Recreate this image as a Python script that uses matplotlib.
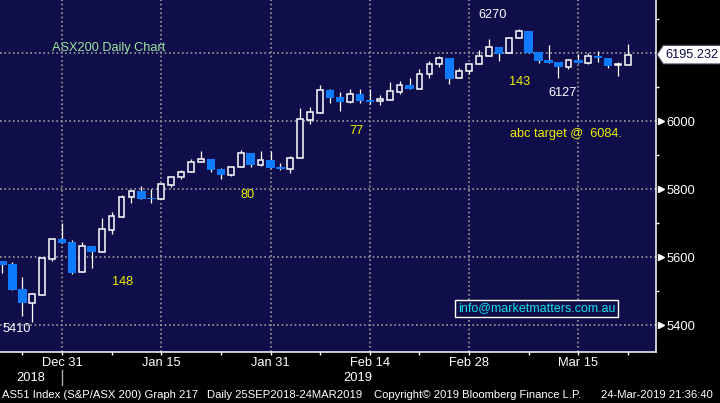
import matplotlib
matplotlib.use("Agg")
import matplotlib.pyplot as plt
import matplotlib.transforms as mtrans
from matplotlib.patches import Polygon

plt.rcParams['font.family'] = ['Liberation Sans', 'DejaVu Sans']

# daily candles, ASX200
dates = ["Dec 19", "Dec 20", "Dec 21", "Dec 24", "Dec 27", "Dec 28", "Dec 31",
         "Jan 2", "Jan 3", "Jan 4", "Jan 7", "Jan 8", "Jan 9", "Jan 10", "Jan 11",
         "Jan 14", "Jan 15", "Jan 16", "Jan 17", "Jan 18", "Jan 21", "Jan 22",
         "Jan 23", "Jan 24", "Jan 25", "Jan 29", "Jan 30", "Jan 31",
         "Feb 1", "Feb 4", "Feb 5", "Feb 6", "Feb 7", "Feb 8", "Feb 11", "Feb 12",
         "Feb 13", "Feb 14", "Feb 15", "Feb 18", "Feb 19", "Feb 20", "Feb 21",
         "Feb 22", "Feb 25", "Feb 26", "Feb 27", "Feb 28",
         "Mar 1", "Mar 4", "Mar 5", "Mar 6", "Mar 7", "Mar 8", "Mar 11", "Mar 12",
         "Mar 13", "Mar 14", "Mar 15", "Mar 18", "Mar 19", "Mar 20", "Mar 21", "Mar 22"]
opens = [5589, 5579, 5506, 5466, 5489, 5595, 5653,
         5644, 5555, 5632, 5616, 5680, 5719, 5776, 5794,
         5774, 5772, 5813, 5834, 5849, 5879, 5888,
         5859, 5842, 5864, 5905, 5872, 5884,
         5865, 5860, 5890, 6004, 6024, 6091, 6071, 6057,
         6079, 6062, 6058, 6063, 6086, 6106, 6094,
         6137, 6167, 6184, 6126, 6148,
         6167, 6190, 6218, 6199, 6243, 6265, 6203, 6179,
         6174, 6160, 6179, 6172, 6192, 6185, 6165, 6166]
highs = [5589, 5585, 5541, 5495, 5596, 5652, 5701,
         5649, 5644, 5632, 5716, 5732, 5782, 5797, 5809,
         5799, 5814, 5834, 5856, 5887, 5912, 5888,
         5862, 5864, 5915, 5905, 5912, 5912,
         5877, 5898, 6038, 6041, 6107, 6095, 6085, 6095,
         6095, 6095, 6077, 6115, 6119, 6127, 6152,
         6177, 6191, 6184, 6156, 6167,
         6209, 6241, 6218, 6248, 6270, 6265, 6203, 6224,
         6174, 6182, 6197, 6199, 6207, 6185, 6174, 6227]
lows = [5554, 5504, 5427, 5410, 5489, 5589, 5642,
        5550, 5555, 5569, 5616, 5667, 5719, 5758, 5772,
        5758, 5772, 5805, 5830, 5849, 5879, 5851,
        5830, 5839, 5864, 5864, 5867, 5863,
        5856, 5848, 5890, 5992, 6024, 6054, 6030, 6054,
        6054, 6049, 6048, 6063, 6080, 6094, 6094,
        6127, 6160, 6108, 6126, 6137,
        6167, 6190, 6177, 6199, 6243, 6201, 6172, 6172,
        6127, 6154, 6172, 6169, 6174, 6157, 6133, 6166]
closes = [5577, 5504, 5466, 5490, 5596, 5652, 5642,
          5554, 5632, 5616, 5682, 5721, 5776, 5793, 5772,
          5771, 5814, 5834, 5849, 5879, 5887, 5857,
          5842, 5864, 5905, 5872, 5884, 5863,
          5860, 5890, 6005, 6026, 6090, 6069, 6057, 6079,
          6060, 6057, 6065, 6087, 6106, 6094, 6138,
          6168, 6184, 6124, 6148, 6167,
          6191, 6217, 6198, 6243, 6264, 6201, 6177, 6172,
          6160, 6179, 6172, 6191, 6186, 6163, 6169, 6195.232]

date_ticks = ["Dec 31", "Jan 15", "Jan 31", "Feb 14", "Feb 28", "Mar 15"]
minor_dates = ["Dec 21", "Jan 8", "Jan 23", "Feb 7", "Feb 21", "Mar 8", "Mar 22"]
price_ticks = [5400, 5600, 5800, 6000, 6200]
price_labels = ["5400", "5600", "5800", "6000", ""]
price_minor = [5500, 5700, 5900, 6100, 6300]
last_price = closes[-1]

# chart notes: (text, x date index, price, colour, ha)
notes = [
    ("6270", 49.4, 6312, "white", "center"),
    ("143", 52.1, 6115, "#f0f000", "center"),
    ("6127", 56.45, 6082, "white", "center"),
    ("abc target @  6084.", 51.1, 5963, "#f0f000", "left"),
    ("77", 35.7, 5971, "#f0f000", "center"),
    ("80", 24.7, 5782, "#f0f000", "center"),
    ("148", 12.1, 5527, "#f0f000", "center"),
    ("5410", 1.47, 5388, "white", "center"),
]

NAVY = "#0f0d4a"
BLUE = "#0c7bff"
GRID = "#9c9c9c"

fig = plt.figure(figsize=(7.2, 4.03), dpi=100, facecolor="black")
ax = fig.add_axes([0, 51 / 403, 656 / 720, 352 / 403])
ax.set_facecolor(NAVY)

x = list(range(len(dates)))
up = [i for i in x if closes[i] >= opens[i]]
dn = [i for i in x if closes[i] < opens[i]]
min_h = 4

ax.vlines(x, lows, highs, color="white", lw=0.9, zorder=2)
ax.bar(up, [max(closes[i] - opens[i], min_h) for i in up],
       bottom=[opens[i] for i in up], width=0.58,
       facecolor=NAVY, edgecolor="white", lw=1.1, zorder=3)
ax.bar(dn, [max(opens[i] - closes[i], min_h) for i in dn],
       bottom=[closes[i] for i in dn], width=0.86,
       color=BLUE, lw=0, zorder=3)

ax.set_xlim(-0.24, 65.82)
ax.set_ylim(5320.6, 6355.9)

# axes + ticks
ax.yaxis.tick_right()
ax.set_yticks(price_ticks)
ax.set_yticklabels(price_labels)
ax.set_yticks(price_minor, minor=True)
ax.set_xticks([dates.index(d) for d in date_ticks])
ax.set_xticklabels(date_ticks)
ax.set_xticks([dates.index(d) for d in minor_dates], minor=True)
ax.tick_params(axis="y", which="major", length=0, pad=7.5, colors="white", labelsize=9.3)
ax.tick_params(axis="y", which="minor", length=2.5, width=1, color="white")
ax.tick_params(axis="x", which="both", length=2.5, width=1, color="white",
               labelcolor="white", labelsize=9.3, pad=1)
for s in ["top", "left"]:
    ax.spines[s].set_visible(False)
for s in ["right", "bottom"]:
    ax.spines[s].set_color("white")
    ax.spines[s].set_linewidth(1.1)

ax.grid(True, which="major", color=GRID, ls=(0, (1, 1.6)), lw=1.2, zorder=1)

yt = mtrans.blended_transform_factory(ax.transAxes, ax.transData)
ax.plot([1.0075] * 4, price_ticks[:4], ls="none", marker=">", ms=5,
        color="white", transform=yt, clip_on=False)

# last price tag
hh = 27.5
tag = Polygon([(1.0015, last_price), (1.011, last_price + hh), (1.1, last_price + hh),
               (1.1, last_price - hh), (1.011, last_price - hh)],
              closed=True, facecolor="white", edgecolor="#404060", lw=0.8,
              transform=yt, clip_on=False, zorder=5)
ax.add_patch(tag)
ax.text(1.0137, last_price, f"{last_price:.3f}", transform=yt, ha="left", va="center",
        color=NAVY, fontsize=9.2, zorder=6, clip_on=False)

# year labels under the dates
xt = mtrans.blended_transform_factory(ax.transData, ax.transAxes)
ax.text(2.88, -0.074, "2018", transform=xt, ha="center", va="center",
        color="white", fontsize=9.3)
ax.text(35.8, -0.074, "2019", transform=xt, ha="center", va="center",
        color="white", fontsize=9.3)
ax.plot([dates.index("Dec 31")] * 2, [-0.051, -0.094], transform=xt,
        color="#aaaaaa", lw=1, clip_on=False)

# annotations
ax.text(4.99, 6215, "ASX200 Daily Chart", ha="left", va="center",
        color="#9de89d", fontsize=9.2)
for txt, xi, yv, col, ha in notes:
    ax.text(xi, yv, txt, ha=ha, va="center", color=col, fontsize=9.2)
ax.text(53.8, 5450, "info@marketmatters.com.au", ha="center", va="center",
        color="#12e0f0", fontsize=9.0,
        bbox=dict(boxstyle="square,pad=0.2", facecolor=NAVY, edgecolor="white", lw=1))

# footer
fy = 1 - 395 / 403
fig.text(2 / 720, fy, "AS51 Index (S&P/ASX 200) Graph 217", color="white",
         fontsize=8.1, va="center")
fig.text(206.7 / 720, fy, "Daily 25SEP2018-24MAR2019", color="white",
         fontsize=8.1, va="center")
fig.text(374 / 720, fy, "Copyright© 2019 Bloomberg Finance L.P.", color="white",
         fontsize=8.1, va="center")
fig.text(601 / 720, fy, "24-Mar-2019 21:36:40", color="white",
         fontsize=8.1, va="center")

fig.savefig("out.png", dpi=100, facecolor="black")
